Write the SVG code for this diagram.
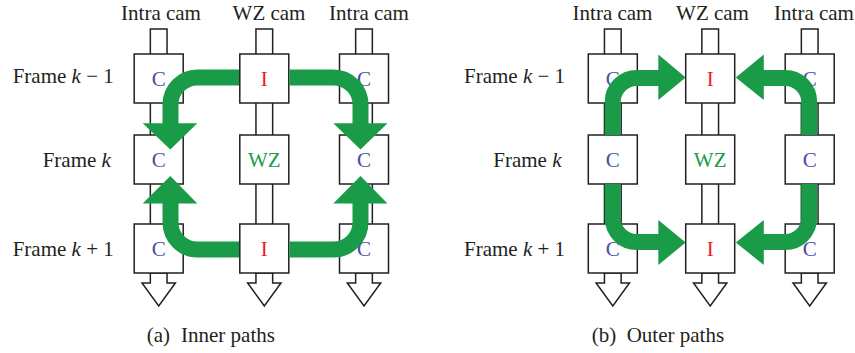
<svg xmlns="http://www.w3.org/2000/svg" width="855" height="353" viewBox="0 0 855 353">
<style>
  text { font-family: "Liberation Serif", "Times New Roman", serif; font-size: 21px; fill: #231f20; }
  .lbl { text-anchor: middle; }
  .c { fill: #4b4da6; text-anchor: middle; }
  .i { fill: #ed1c24; text-anchor: middle; }
  .wz { fill: #1a9a48; text-anchor: middle; }
  .box { fill: #ffffff; stroke: #231f20; stroke-width: 1.5; }
  .stem { fill: #ffffff; stroke: #231f20; stroke-width: 1.5; }
  .path { fill: none; stroke: #1a9b48; stroke-width: 16; }
  .head { fill: #1a9b48; stroke: none; }
</style>
<defs>
  <g id="column">
    <rect class="stem" x="-8.35" y="29" width="16.7" height="244"/>
    <polygon class="stem" points="-8.35,273 -8.35,283 -16.7,283 0,306 16.7,283 8.35,283 8.35,273"/>
  </g>
</defs>

<!-- Column headers -->
<g id="headers">
  <text class="lbl" x="161" y="20">Intra cam</text>
  <text class="lbl" x="269" y="20">WZ cam</text>
  <text class="lbl" x="369" y="20">Intra cam</text>
  <text class="lbl" x="612.5" y="20">Intra cam</text>
  <text class="lbl" x="712.5" y="20">WZ cam</text>
  <text class="lbl" x="814" y="20">Intra cam</text>
</g>

<!-- Row labels -->
<g id="row-labels">
  <text x="12.7" y="83">Frame <tspan font-style="italic">k</tspan> − 1</text>
  <text x="42.7" y="166.5">Frame <tspan font-style="italic">k</tspan></text>
  <text x="12.7" y="256">Frame <tspan font-style="italic">k</tspan> + 1</text>
  <text x="464" y="83">Frame <tspan font-style="italic">k</tspan> − 1</text>
  <text x="493.3" y="166.5">Frame <tspan font-style="italic">k</tspan></text>
  <text x="464" y="256">Frame <tspan font-style="italic">k</tspan> + 1</text>
</g>

<!-- Camera columns (stems and output arrows) -->
<g id="columns">
  <use href="#column" x="158.7"/>
  <use href="#column" x="264.3"/>
  <use href="#column" x="364"/>
  <use href="#column" x="612.8"/>
  <use href="#column" x="710.2"/>
  <use href="#column" x="809.7"/>
</g>

<!-- Panel (a) nodes -->
<g id="a-c1-r1"><rect class="box" x="134.2" y="54" width="49" height="49"/><text class="c" x="158.7" y="85.5">C</text></g>
<g id="a-c2-r1"><rect class="box" x="239.8" y="54" width="49" height="49"/><text class="i" x="264.3" y="85.5">I</text></g>
<g id="a-c3-r1"><rect class="box" x="339.5" y="54" width="49" height="49"/><text class="c" x="364" y="85.5">C</text></g>
<g id="a-c1-r2"><rect class="box" x="134.2" y="135" width="49" height="49"/><text class="c" x="158.7" y="166.5">C</text></g>
<g id="a-c2-r2"><rect class="box" x="239.8" y="135" width="49" height="49"/><text class="wz" x="264.3" y="166.5">WZ</text></g>
<g id="a-c3-r2"><rect class="box" x="339.5" y="135" width="49" height="49"/><text class="c" x="364" y="166.5">C</text></g>
<g id="a-c1-r3"><rect class="box" x="134.2" y="224" width="49" height="49"/><text class="c" x="158.7" y="255.5">C</text></g>
<g id="a-c2-r3"><rect class="box" x="239.8" y="224" width="49" height="49"/><text class="i" x="264.3" y="255.5">I</text></g>
<g id="a-c3-r3"><rect class="box" x="339.5" y="224" width="49" height="49"/><text class="c" x="364" y="255.5">C</text></g>

<!-- Panel (b) nodes -->
<g id="b-c1-r1"><rect class="box" x="588.3" y="54" width="49" height="49"/><text class="c" x="612.8" y="85.5">C</text></g>
<g id="b-c2-r1"><rect class="box" x="685.7" y="54" width="49" height="49"/><text class="i" x="710.2" y="85.5">I</text></g>
<g id="b-c3-r1"><rect class="box" x="785.2" y="54" width="49" height="49"/><text class="c" x="809.7" y="85.5">C</text></g>
<g id="b-c1-r2"><rect class="box" x="588.3" y="135" width="49" height="49"/><text class="c" x="612.8" y="166.5">C</text></g>
<g id="b-c2-r2"><rect class="box" x="685.7" y="135" width="49" height="49"/><text class="wz" x="710.2" y="166.5">WZ</text></g>
<g id="b-c3-r2"><rect class="box" x="785.2" y="135" width="49" height="49"/><text class="c" x="809.7" y="166.5">C</text></g>
<g id="b-c1-r3"><rect class="box" x="588.3" y="224" width="49" height="49"/><text class="c" x="612.8" y="255.5">C</text></g>
<g id="b-c2-r3"><rect class="box" x="685.7" y="224" width="49" height="49"/><text class="i" x="710.2" y="255.5">I</text></g>
<g id="b-c3-r3"><rect class="box" x="785.2" y="224" width="49" height="49"/><text class="c" x="809.7" y="255.5">C</text></g>

<!-- Connectors (green paths) -->
<g id="connectors">
  <!-- (a) inner paths -->
  <path class="path" d="M 239,77.5 H 197.5 A 27,27 0 0 0 170.5,104.5 V 124"/>
  <polygon class="head" points="142.7,123.3 197.3,123.3 170.3,149.5"/>
  <path class="path" d="M 289.5,77.5 H 333.5 A 27,27 0 0 1 360.5,104.5 V 124"/>
  <polygon class="head" points="333.3,123.3 387.5,123.3 360.5,149.5"/>
  <path class="path" d="M 239,249.5 H 197.5 A 27,27 0 0 1 170.5,222.5 V 203"/>
  <polygon class="head" points="142.7,203.5 197.3,203.5 170.3,176"/>
  <path class="path" d="M 289.5,249.5 H 333.5 A 27,27 0 0 0 360.5,222.5 V 203"/>
  <polygon class="head" points="333.3,203.5 387.5,203.5 360.5,176"/>
  <!-- (b) outer paths -->
  <path class="path" d="M 612.7,135 V 102 A 24,24 0 0 1 636.7,78 H 659"/>
  <polygon class="head" points="658.3,54.5 685.7,77.5 658.3,100"/>
  <path class="path" d="M 809.2,135 V 102 A 24,24 0 0 0 785.2,78 H 763"/>
  <polygon class="head" points="763.8,54.5 735.8,77.5 763.8,100"/>
  <path class="path" d="M 612.7,184 V 218 A 24,24 0 0 0 636.7,242 H 659"/>
  <polygon class="head" points="658.3,220 685.7,242.5 658.3,265"/>
  <path class="path" d="M 809.2,184 V 218 A 24,24 0 0 1 785.2,242 H 763"/>
  <polygon class="head" points="763.8,220 735.8,242.5 763.8,265"/>
</g>

<!-- Captions -->
<g id="captions">
  <text x="146.7" y="342">(a)</text>
  <text x="181" y="342">Inner paths</text>
  <text x="591.7" y="342">(b)</text>
  <text x="626.7" y="342">Outer paths</text>
</g>
</svg>
